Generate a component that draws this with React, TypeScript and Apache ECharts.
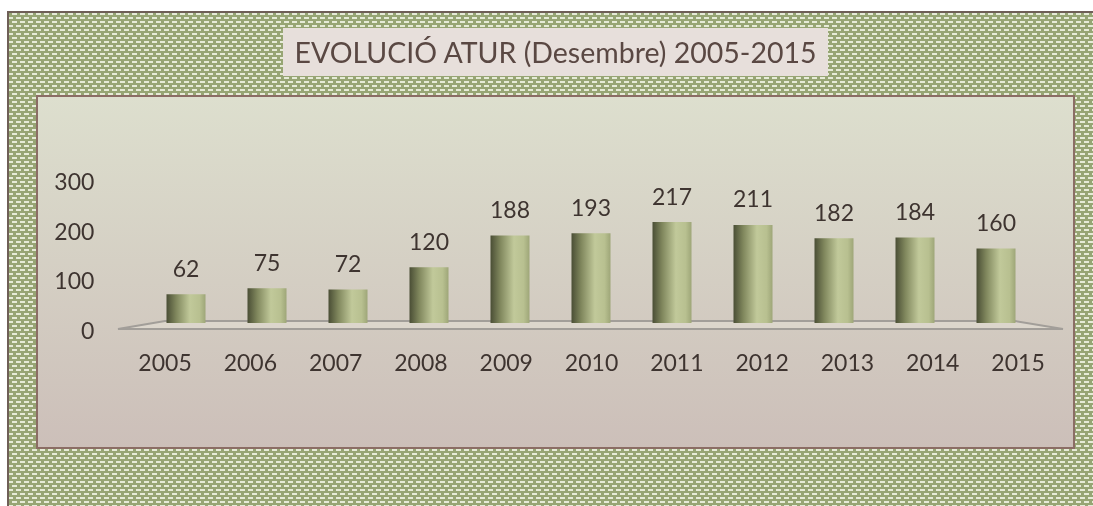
import React, { useEffect, useRef } from "react";
import * as echarts from "echarts";

const years = ["2005", "2006", "2007", "2008", "2009", "2010", "2011", "2012", "2013", "2014", "2015"];
const values = [62, 75, 72, 120, 188, 193, 217, 211, 182, 184, 160];
const yMin = 0;
const yMax = 300;
const yStep = 100;
const titleText = "EVOLUCIÓ ATUR (Desembre) 2005-2015";

function makePattern(): HTMLCanvasElement {
  const c = document.createElement("canvas");
  c.width = 8;
  c.height = 8;
  const ctx = c.getContext("2d")!;
  ctx.fillStyle = "#97a574";
  ctx.fillRect(0, 0, 8, 8);
  ctx.fillStyle = "#e6ebd7";
  ctx.fillRect(0, 1, 5, 2);
  ctx.fillRect(4, 5, 4, 2);
  ctx.fillRect(0, 5, 1, 2);
  return c;
}

export default function App() {
  const ref = useRef<HTMLDivElement>(null);
  useEffect(() => {
    if (!ref.current) return;
    const chart = echarts.init(ref.current, undefined, { renderer: "svg" });
    const pat = makePattern();
    const textColor = "#3e3430";
    chart.setOption({
      animation: false,
      textStyle: { fontFamily: "Lato" },
      graphic: [
        {
          type: "rect",
          z: -10,
          shape: { x: 8, y: 12, width: 1100, height: 510 },
          style: { fill: { image: pat, repeat: "repeat", imageWidth: 8, imageHeight: 8 } as any, stroke: "#6f5f57", lineWidth: 2 },
        },
        {
          type: "rect",
          z: -9,
          shape: { x: 283, y: 28, width: 545, height: 48 },
          style: { fill: "#e7dfdb" },
        },
        {
          type: "text",
          z: -8,
          style: { text: titleText, x: 555.5, y: 52, align: "center", verticalAlign: "middle", font: "28.5px Lato", fill: "#5a4843" },
        },
        {
          type: "rect",
          z: -9,
          shape: { x: 37, y: 96, width: 1037, height: 352 },
          style: {
            fill: {
              type: "linear", x: 0, y: 0, x2: 0, y2: 1,
              colorStops: [
                { offset: 0, color: "#dddfce" },
                { offset: 1, color: "#ccbfb9" },
              ],
            } as any,
            stroke: "#8b6d65",
            lineWidth: 2,
          },
        },
        {
          type: "polygon",
          z: -5,
          shape: { points: [[118, 329], [165, 321], [1015, 321], [1063, 329]] },
          style: { fill: "rgba(226,222,212,0.6)", stroke: "#a29e99", lineWidth: 2 },
        },
      ],
      grid: [
        { left: 145.5, width: 891, top: 183.5, height: 139.5 },
        { left: 122.4, width: 938.3, top: 181, height: 149 },
      ],
      xAxis: [
        { gridIndex: 0, type: "category", data: years, show: false },
        {
          gridIndex: 1, type: "category", data: years,
          axisLine: { show: false }, axisTick: { show: false },
          axisLabel: { fontSize: 23, color: textColor, margin: 20, fontFamily: "Lato" },
        },
      ],
      yAxis: [
        { gridIndex: 0, type: "value", min: yMin, max: yMax, show: false },
        {
          gridIndex: 1, type: "value", min: yMin, max: yMax, interval: yStep,
          splitLine: { show: false }, axisLine: { show: false }, axisTick: { show: false },
          axisLabel: { fontSize: 23, color: textColor, margin: 28, fontFamily: "Lato" },
        },
      ],
      series: [
        {
          type: "bar",
          xAxisIndex: 0,
          yAxisIndex: 0,
          data: values,
          barWidth: 39,
          itemStyle: {
            color: {
              type: "linear", x: 0, y: 0, x2: 1, y2: 0,
              colorStops: [
                { offset: 0, color: "#4a4e35" },
                { offset: 0.25, color: "#80875d" },
                { offset: 0.6, color: "#c1c99a" },
                { offset: 0.85, color: "#b8c090" },
                { offset: 1, color: "#9ea678" },
              ],
            },
          },
          label: { show: true, position: "top", distance: 15, fontSize: 23, color: textColor, fontFamily: "Lato" },
        },
      ],
    });
    return () => chart.dispose();
  }, []);
  return <div ref={ref} style={{ position: "fixed", left: 0, top: 0, width: 1093, height: 506 }} />;
}
